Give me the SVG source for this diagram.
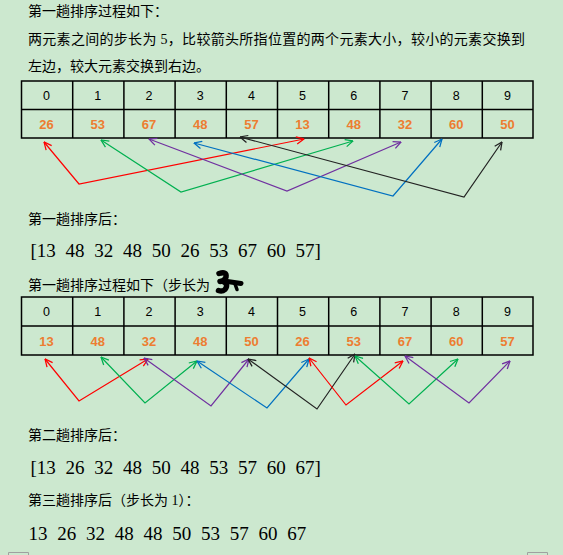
<svg xmlns="http://www.w3.org/2000/svg" width="563" height="555" viewBox="0 0 563 555">
<style>
.cn{font-family:"Liberation Serif","Noto Sans CJK SC",serif;font-size:14px;fill:#000}
.arr{font-family:"Liberation Serif","Noto Sans CJK SC",serif;font-size:19px;fill:#000;word-spacing:5px}
.hd{font-family:"Liberation Sans","DejaVu Sans",sans-serif;font-size:12.5px;fill:#000;text-anchor:middle}
.val{font-family:"Liberation Sans","DejaVu Sans",sans-serif;font-size:13px;font-weight:bold;fill:#ED7D31;text-anchor:middle}
.grid{fill:none;stroke:#000;stroke-width:1.5}
.a{fill:none;stroke-width:1.2}
</style>
<defs>
<marker id="mr" viewBox="0 0 10 10" refX="9.5" refY="5" markerWidth="9" markerHeight="9" markerUnits="userSpaceOnUse" orient="auto-start-reverse"><path d="M1,1 L9.5,5 L1,9" fill="none" stroke="#FF0000" stroke-width="1.4"/></marker>
<marker id="mg" viewBox="0 0 10 10" refX="9.5" refY="5" markerWidth="9" markerHeight="9" markerUnits="userSpaceOnUse" orient="auto-start-reverse"><path d="M1,1 L9.5,5 L1,9" fill="none" stroke="#00B050" stroke-width="1.4"/></marker>
<marker id="mp" viewBox="0 0 10 10" refX="9.5" refY="5" markerWidth="9" markerHeight="9" markerUnits="userSpaceOnUse" orient="auto-start-reverse"><path d="M1,1 L9.5,5 L1,9" fill="none" stroke="#7030A0" stroke-width="1.4"/></marker>
<marker id="mb" viewBox="0 0 10 10" refX="9.5" refY="5" markerWidth="9" markerHeight="9" markerUnits="userSpaceOnUse" orient="auto-start-reverse"><path d="M1,1 L9.5,5 L1,9" fill="none" stroke="#0070C0" stroke-width="1.4"/></marker>
<marker id="mk" viewBox="0 0 10 10" refX="9.5" refY="5" markerWidth="9" markerHeight="9" markerUnits="userSpaceOnUse" orient="auto-start-reverse"><path d="M1,1 L9.5,5 L1,9" fill="none" stroke="#222" stroke-width="1.4"/></marker>
</defs>
<rect width="563" height="555" fill="#CCE8CF"/>

<g id="intro">
<text class="cn" x="28" y="16">第一趟排序过程如下：</text>
<text class="cn" x="28" y="44" textLength="497">两元素之间的步长为 5，比较箭头所指位置的两个元素大小，较小的元素交换到</text>
<text class="cn" x="28" y="71">左边，较大元素交换到右边。</text>
</g>

<g id="table1">
<rect class="grid" x="21.5" y="81" width="511.5" height="57"/>
<path class="grid" d="M21.5,109.5H533M72.7,81V138M123.9,81V138M175.1,81V138M226.3,81V138M277.5,81V138M328.7,81V138M379.9,81V138M431.1,81V138M482.3,81V138"/>
<text class="hd" x="46.6" y="100">0</text><text class="hd" x="97.8" y="100">1</text><text class="hd" x="149" y="100">2</text><text class="hd" x="200.2" y="100">3</text><text class="hd" x="251.4" y="100">4</text><text class="hd" x="302.6" y="100">5</text><text class="hd" x="353.8" y="100">6</text><text class="hd" x="405" y="100">7</text><text class="hd" x="456.2" y="100">8</text><text class="hd" x="507.4" y="100">9</text>
<text class="val" x="46.6" y="128.5">26</text><text class="val" x="97.8" y="128.5">53</text><text class="val" x="149" y="128.5">67</text><text class="val" x="200.2" y="128.5">48</text><text class="val" x="251.4" y="128.5">57</text><text class="val" x="302.6" y="128.5">13</text><text class="val" x="353.8" y="128.5">48</text><text class="val" x="405" y="128.5">32</text><text class="val" x="456.2" y="128.5">60</text><text class="val" x="507.4" y="128.5">50</text>
</g>

<g id="connectors1">
<polyline class="a" stroke="#FF0000" marker-start="url(#mr)" marker-end="url(#mr)" points="44,142 79,184 304,139"/>
<polyline class="a" stroke="#00B050" marker-start="url(#mg)" marker-end="url(#mg)" points="101,140 181,192 353,141"/>
<polyline class="a" stroke="#7030A0" marker-start="url(#mp)" marker-end="url(#mp)" points="149,139 287,191 401,142"/>
<polyline class="a" stroke="#0070C0" marker-start="url(#mb)" marker-end="url(#mb)" points="194,143 393,196 442,139"/>
<polyline class="a" stroke="#222" marker-start="url(#mk)" marker-end="url(#mk)" points="240,137 464,197 502,142"/>
</g>

<g id="result1">
<text class="cn" x="28" y="224">第一趟排序后：</text>
<text class="arr" x="30.5" y="257">[13 48 32 48 50 26 53 67 60 57]</text>
</g>

<g id="pass2title">
<text class="cn" x="28" y="290">第一趟排序过程如下（步长为</text>
<path d="M219,273.5 Q227,271 226,277 Q225,281 220,281.5 M223,281.5 Q229,284 225,289.5 Q222,292 218.5,290.5" fill="none" stroke="#000" stroke-width="5.5" stroke-linecap="round" stroke-linejoin="round"/>
<path d="M224,281 L241,283.5" fill="none" stroke="#000" stroke-width="5" stroke-linecap="round"/>
<path d="M235,284 L237,289.5" stroke="#000" stroke-width="3.5" stroke-linecap="round"/>
</g>

<g id="table2">
<rect class="grid" x="21.5" y="297" width="511.5" height="58"/>
<path class="grid" d="M21.5,326H533M72.7,297V355M123.9,297V355M175.1,297V355M226.3,297V355M277.5,297V355M328.7,297V355M379.9,297V355M431.1,297V355M482.3,297V355"/>
<text class="hd" x="46.6" y="316">0</text><text class="hd" x="97.8" y="316">1</text><text class="hd" x="149" y="316">2</text><text class="hd" x="200.2" y="316">3</text><text class="hd" x="251.4" y="316">4</text><text class="hd" x="302.6" y="316">5</text><text class="hd" x="353.8" y="316">6</text><text class="hd" x="405" y="316">7</text><text class="hd" x="456.2" y="316">8</text><text class="hd" x="507.4" y="316">9</text>
<text class="val" x="46.6" y="345.5">13</text><text class="val" x="97.8" y="345.5">48</text><text class="val" x="149" y="345.5">32</text><text class="val" x="200.2" y="345.5">48</text><text class="val" x="251.4" y="345.5">50</text><text class="val" x="302.6" y="345.5">26</text><text class="val" x="353.8" y="345.5">53</text><text class="val" x="405" y="345.5">67</text><text class="val" x="456.2" y="345.5">60</text><text class="val" x="507.4" y="345.5">57</text>
</g>

<g id="connectors2">
<polyline class="a" stroke="#FF0000" marker-start="url(#mr)" marker-end="url(#mr)" points="45,359 79,401 148,359"/>
<polyline class="a" stroke="#00B050" marker-start="url(#mg)" marker-end="url(#mg)" points="101,357 145,403 197,361"/>
<polyline class="a" stroke="#7030A0" marker-start="url(#mp)" marker-end="url(#mp)" points="144,358 211,406 249,359"/>
<polyline class="a" stroke="#0070C0" marker-start="url(#mb)" marker-end="url(#mb)" points="197,361 267,408 309,359"/>
<polyline class="a" stroke="#222" marker-start="url(#mk)" marker-end="url(#mk)" points="248,359 317,409 355,354"/>
<polyline class="a" stroke="#FF0000" marker-start="url(#mr)" marker-end="url(#mr)" points="309,358 346,405 403,361"/>
<polyline class="a" stroke="#00B050" marker-start="url(#mg)" marker-end="url(#mg)" points="355,356 409,404 458,359"/>
<polyline class="a" stroke="#7030A0" marker-start="url(#mp)" marker-end="url(#mp)" points="405,356 469,403 510,361"/>
</g>

<g id="result2">
<text class="cn" x="28" y="440">第二趟排序后：</text>
<text class="arr" x="30.5" y="474">[13 26 32 48 50 48 53 57 60 67]</text>
</g>

<g id="result3">
<text class="cn" x="28" y="505">第三趟排序后（步长为 1）：</text>
<text class="arr" x="28.5" y="540">13 26 32 48 48 50 53 57 60 67</text>
</g>

<g id="corners" fill="none" stroke="#A0A0A0" stroke-width="1">
<path d="M8.5,555V552.5H28.5V555"/>
<path d="M527.5,555V552.5H547.5V555"/>
</g>
</svg>
